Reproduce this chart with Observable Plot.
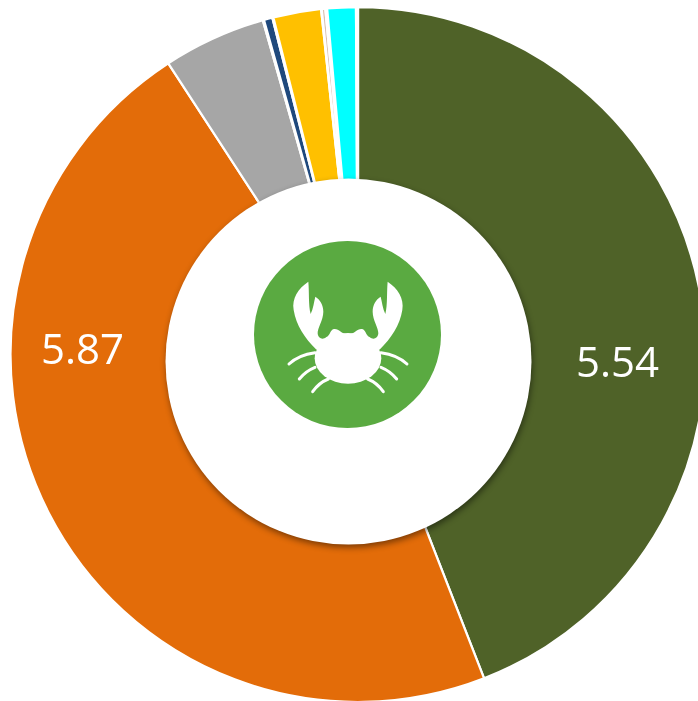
<!DOCTYPE html>
<html>
<head>
<meta charset="utf-8">
<style>html,body{margin:0;padding:0;background:#fff;overflow:hidden}svg{display:block}</style>
<script src="https://cdn.jsdelivr.net/npm/d3@7"></script>
<script src="https://cdn.jsdelivr.net/npm/@observablehq/plot@0.6"></script>
</head>
<body>
<script>
const categories = ["a","b","c","gap0","d","gap00","e","gap1","f","gap2","g","gap3"];
const sliceValues = [5.54,5.87,0.60,0.007,0.05,0.006,0.279,0.0035,0.0209,0.0105,0.1665,0.0115];
const sliceColors = ["#4F6228","#E36C09","#A6A6A6","#FFFFFF","#1F497D","#FFFFFF","#FFC000","#FFFFFF","#D9BFAE","#FFFFFF","#00FFFF","#FFFFFF"];
const labelTexts = ["5.54","5.87"];

const W = 698, H = 701;
const cx = 358, cy = 354.5, R = 347.5;
const slices = categories.map((category,i)=>({category,value:sliceValues[i]}));

const ring = Plot.barX(slices, Plot.stackX({
  x:"value", fill:"category", order:null,
  render(index, scales, values) {
    const arc = d3.arc();
    const g = d3.create("svg:g");
    for (const i of index) {
      g.append("path")
        .attr("transform",`translate(${cx},${cy})`)
        .attr("d",arc({innerRadius:160,outerRadius:R,startAngle:values.x1[i],endAngle:values.x2[i]}))
        .attr("fill",values.fill[i])
        .attr("stroke","#fff")
        .attr("stroke-width",2.25);
    }
    return g.node();
  }
}));

function crab() {
  const half = "M205 155 C175 175 155 205 161 240 C168 285 195 325 228 358 L324 420 L324 312 C305 314 298 296 283 297 C270 298 272 316 258 322 C248 331 234 325 233 310 C232 295 250 270 250 245 C250 225 240 208 226 200 C222 215 220 235 212 252 C205 225 208 185 205 155 Z";
  const legs = "M225 368 C195 372 168 382 147 402 M225 412 C205 420 190 432 178 447 M265 447 C245 455 230 468 218 485";
  const g = d3.create("svg:g").attr("transform","translate(240,230) scale(0.3333)");
  for (const t of ["", "translate(648,0) scale(-1,1)"]) {
    const s = g.append("g").attr("transform",t);
    s.append("path").attr("d",half).attr("fill","#fff");
    s.append("path").attr("d",legs).attr("fill","none").attr("stroke","#fff").attr("stroke-width",9).attr("stroke-linecap","round");
  }
  g.append("ellipse").attr("cx",324).attr("cy",385).attr("rx",100).attr("ry",76).attr("fill","#fff");
  return g.node();
}

const chart = Plot.plot({
  width:W, height:H, margin:0,
  style:{background:"#fff",overflow:"hidden",filter:"blur(0.5px)"},
  x:{domain:[0,d3.sum(sliceValues)],range:[0,2*Math.PI],axis:null},
  color:{domain:categories,range:sliceColors},
  marks:[
    ring,
    Plot.dot([0],{frameAnchor:"top-left",dx:348,dy:361,r:183,fill:"#fff",imageFilter:"drop-shadow(1.5px 3px 3px rgba(0,0,0,0.45))"}),
    Plot.dot([0],{frameAnchor:"top-left",dx:347,dy:334,r:93.5,fill:"#5AAA41"}),
    crab,
    Plot.text([labelTexts[0]],{text:d=>d,frameAnchor:"top-left",dx:617,dy:363.5,fill:"#fff",fontSize:42,fontFamily:"Open Sans",textAnchor:"middle",lineAnchor:"middle"}),
    Plot.text([labelTexts[1]],{text:d=>d,frameAnchor:"top-left",dx:82,dy:350.5,fill:"#fff",fontSize:42,fontFamily:"Open Sans",textAnchor:"middle",lineAnchor:"middle"})
  ]
});
document.body.appendChild(chart);
</script>
</body>
</html>
